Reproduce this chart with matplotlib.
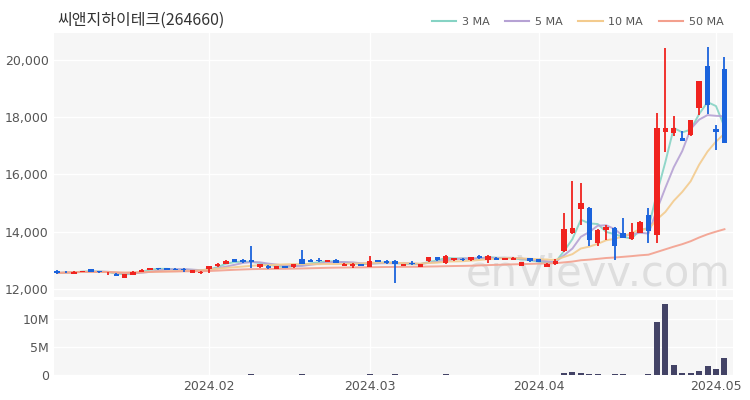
import numpy as np
import pandas as pd
import matplotlib
matplotlib.use('Agg')
import matplotlib.pyplot as plt
from matplotlib.lines import Line2D
from matplotlib.ticker import FuncFormatter, FixedLocator

title = '씨앤지하이테크(264660)'

# trading days (KRX holidays removed)
holidays = ['2024-02-09', '2024-02-12', '2024-03-01', '2024-04-10', '2024-05-01']
dates = pd.bdate_range('2024-01-08', '2024-05-03')
dates = dates[~dates.isin(pd.to_datetime(holidays))]

opens = [12620, 12600, 12520, 12580, 12680, 12600, 12540, 12530, 12380, 12480,
         12600, 12650, 12730, 12710, 12700, 12700, 12560, 12560, 12680, 12790,
         12880, 13040, 13020, 13000, 12750, 12810, 12700, 12790, 12760, 13040,
         13020, 13020, 12950, 13020, 12810, 12810, 12860, 12770, 12990, 12960,
         12960, 12790, 12900, 12760, 12960, 13110, 12900, 12990, 13050, 12990,
         13160, 12990, 13060, 13000, 13000, 12810, 13080, 13030, 12770, 12850,
         13330, 13960, 14800, 14840, 13610, 14070, 14140, 13960, 13750, 13960,
         14590, 13890, 17490, 17450, 17280, 17380, 18320, 19790, 17590, 19690]
highs = [12640, 12620, 12610, 12630, 12700, 12610, 12580, 12540, 12510, 12610,
         12680, 12730, 12740, 12720, 12710, 12710, 12650, 12620, 12800, 12900,
         12990, 13050, 13030, 13490, 12870, 12820, 12800, 12800, 12860, 13370,
         13030, 13060, 13000, 13030, 12890, 12890, 12870, 13160, 13000, 13000,
         12990, 12880, 12960, 12860, 13120, 13120, 13170, 13070, 13060, 13110,
         13170, 13170, 13110, 13080, 13100, 12940, 13090, 13040, 12890, 13040,
         14660, 15780, 15700, 14850, 14100, 14240, 14150, 14490, 14310, 14360,
         14840, 18150, 20420, 18050, 17520, 17920, 19280, 20450, 17730, 20100]
lows = [12530, 12550, 12500, 12570, 12590, 12560, 12470, 12430, 12360, 12470,
        12590, 12640, 12670, 12650, 12640, 12600, 12540, 12520, 12560, 12770,
        12860, 12920, 12900, 12740, 12730, 12700, 12690, 12720, 12740, 12870,
        12920, 12940, 12940, 12890, 12800, 12740, 12780, 12760, 12920, 12880,
        12200, 12780, 12840, 12750, 12950, 12980, 12880, 12980, 12980, 12980,
        13050, 12900, 13010, 12990, 12990, 12800, 12950, 12930, 12750, 12840,
        13280, 13900, 14240, 13480, 13480, 13720, 13020, 13780, 13700, 13950,
        13610, 13610, 16790, 17350, 17160, 17340, 18080, 18120, 16860, 17090]
closes = [12550, 12570, 12600, 12620, 12600, 12580, 12560, 12450, 12500, 12600,
          12670, 12720, 12690, 12670, 12660, 12670, 12640, 12600, 12780, 12880,
          12960, 12950, 12930, 12930, 12850, 12730, 12780, 12740, 12850, 12880,
          12930, 12960, 12990, 12900, 12880, 12880, 12790, 12960, 12930, 12900,
          12850, 12870, 12850, 12850, 13110, 12990, 13130, 13060, 12990, 13100,
          13070, 13160, 13020, 13060, 13090, 12930, 12960, 12940, 12880, 12960,
          14100, 14140, 15000, 13720, 14070, 14170, 13480, 13790, 14000, 14350,
          14030, 17630, 17630, 17630, 17170, 17910, 19270, 18430, 17490, 17100]
volumes = [60000, 45000, 50000, 40000, 70000, 35000, 45000, 60000, 80000, 55000,
           50000, 45000, 40000, 35000, 40000, 50000, 45000, 40000, 70000, 65000,
           60000, 55000, 50000, 150000, 60000, 45000, 40000, 35000, 40000, 110000,
           50000, 45000, 40000, 50000, 45000, 40000, 35000, 90000, 50000, 45000,
           130000, 60000, 45000, 50000, 80000, 60000, 90000, 50000, 45000, 60000,
           55000, 70000, 45000, 40000, 45000, 60000, 50000, 45000, 50000, 55000,
           400000, 550000, 420000, 150000, 90000, 80000, 110000, 90000, 70000, 80000,
           130000, 9500000, 12600000, 1750000, 300000, 350000, 750000, 1600000, 1000000, 3000000]

ma_windows = [3, 5, 10, 50]
ma_labels = ['3 MA', '5 MA', '10 MA', '50 MA']
ma_colors = ['#86d3c4', '#b6a2d4', '#f3cb8e', '#f3a08e']

tick_dates = ['2024-02-01', '2024-03-04', '2024-04-01', '2024-05-02']
tick_labels = ['2024.02', '2024.03', '2024.04', '2024.05']
price_ticks = [12000, 14000, 16000, 18000, 20000]
vol_ticks = [0, 5000000, 10000000]

up_color = '#f0231f'
down_color = '#1b63dc'
bg = '#f6f6f6'

fig = plt.figure(figsize=(7.5, 4), dpi=100)
ax = fig.add_axes([0.0716, 0.257, 0.9056, 0.66])
axv = fig.add_axes([0.0716, 0.0625, 0.9056, 0.187], sharex=ax)

x = np.arange(len(dates))
o = np.array(opens)
h = np.array(highs)
l = np.array(lows)
c = np.array(closes)
colors = [up_color if c[i] >= o[i] else down_color for i in range(len(x))]

# moving averages
s = pd.Series(closes)
for w, lab, col in zip(ma_windows, ma_labels, ma_colors):
    ax.plot(x, s.rolling(w, min_periods=1).mean(), color=col, lw=1.4, alpha=0.9, zorder=2)

# candles
ax.vlines(x, l, h, colors=colors, lw=1.3, zorder=3)
body = np.maximum(np.abs(c - o), 25)
ax.bar(x, body, bottom=np.minimum(o, c), width=0.64, color=colors, zorder=4)

# watermark
ax.text(0.997, 0.045, 'enVievv.com', transform=ax.transAxes, ha='right', va='baseline',
        fontsize=30, color='#dedede', zorder=1)

# volume
axv.bar(x, volumes, width=0.7, color='#434366', zorder=3)

tick_pos = [dates.get_loc(pd.Timestamp(d)) for d in tick_dates]
for a in (ax, axv):
    a.set_facecolor(bg)
    for sp in a.spines.values():
        sp.set_visible(False)
    a.grid(True, color='white', lw=1.0, zorder=0)
    a.set_axisbelow(True)
    a.tick_params(length=0, colors='#555555', labelsize=9)
    a.xaxis.set_major_locator(FixedLocator(tick_pos))

ax.set_xlim(-0.4, 80.0)
ax.set_ylim(11700, 20950)
ax.set_yticks(price_ticks)
ax.yaxis.set_major_formatter(FuncFormatter(lambda v, p: '{:,.0f}'.format(v)))
ax.tick_params(labelbottom=False)

axv.set_ylim(0, 13300000)
axv.set_yticks(vol_ticks)
axv.yaxis.set_major_formatter(FuncFormatter(lambda v, p: '0' if v == 0 else '%dM' % (v / 1e6)))
axv.set_xticks(tick_pos)
axv.set_xticklabels(tick_labels)

fig.text(0.076, 0.948, title, fontsize=11.5, color='#333333', va='center',
         family=['Noto Sans CJK KR', 'DejaVu Sans'])

handles = [Line2D([], [], color=col, lw=1.5) for col in ma_colors]
leg = ax.legend(handles, ma_labels, loc='lower right', bbox_to_anchor=(0.995, 1.0), ncol=4,
                frameon=False, fontsize=8, handlelength=2.2, columnspacing=1.4,
                handletextpad=0.5, borderaxespad=0.15)
for t in leg.get_texts():
    t.set_color('#555555')

plt.savefig('out.png', dpi=100)
